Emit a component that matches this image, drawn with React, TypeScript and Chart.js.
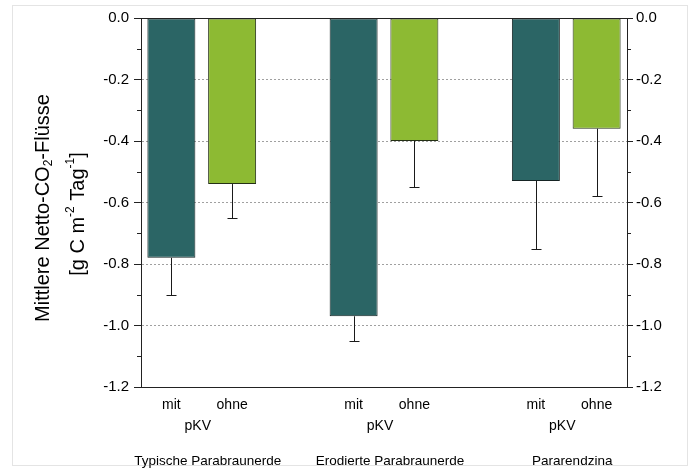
import React, { useEffect, useRef } from 'react';
import { Chart, registerables } from 'chart.js';

Chart.register(...registerables);

// ---- data ----
const slotLabels = ['mit', 'ohne', '', 'mit', 'ohne', '', 'mit', 'ohne'];
const groupLabels = ['Typische Parabraunerde', 'Erodierte Parabraunerde', 'Pararendzina'];
const pairLabel = 'pKV';
const mitValues = [-0.78, -0.97, -0.53];
const ohneValues = [-0.54, -0.40, -0.36];
const mitErrors = [0.12, 0.08, 0.22];
const ohneErrors = [0.11, 0.15, 0.22];
const yTickLabels = ['0.0', '-0.2', '-0.4', '-0.6', '-0.8', '-1.0', '-1.2'];
const yMinorTicks = [-0.1, -0.3, -0.5, -0.7, -0.9, -1.1];
const titleLine1 = [
  { t: 'Mittlere Netto-CO', k: 'n' },
  { t: '2', k: 'sub' },
  { t: '-Flüsse', k: 'n' },
];
const titleLine2 = [
  { t: '[g C m', k: 'n' },
  { t: '-2', k: 'sup' },
  { t: ' Tag', k: 'n' },
  { t: '-1', k: 'sup' },
  { t: ']', k: 'n' },
];

const FONT = "'Liberation Sans', Arial, Helvetica, sans-serif";
const TEAL = '#2b6565';
const GREEN = '#8dba33';

function toSlots(values: number[], offset: number): (number | null)[] {
  const out: (number | null)[] = slotLabels.map(() => null);
  values.forEach((v, g) => {
    out[g * 3 + offset] = v;
  });
  return out;
}

const mitData = toSlots(mitValues, 0);
const ohneData = toSlots(ohneValues, 1);
const mitErrSlots = toSlots(mitErrors, 0);
const ohneErrSlots = toSlots(ohneErrors, 1);

function drawRich(ctx: CanvasRenderingContext2D, segs: { t: string; k: string }[], size: number) {
  const small = Math.round(size * 0.62);
  const widths = segs.map((s) => {
    ctx.font = `${s.k === 'n' ? size : small}px ${FONT}`;
    return ctx.measureText(s.t).width;
  });
  const total = widths.reduce((a, b) => a + b, 0);
  let x = -total / 2;
  segs.forEach((s, i) => {
    ctx.font = `${s.k === 'n' ? size : small}px ${FONT}`;
    let dy = 0;
    if (s.k === 'sub') dy = size * 0.3;
    if (s.k === 'sup') dy = -size * 0.38;
    ctx.fillText(s.t, x, dy);
    x += widths[i];
  });
}

const customPlugin = {
  id: 'custom',
  beforeDraw(chart: any) {
    const ctx = chart.ctx as CanvasRenderingContext2D;
    ctx.save();
    ctx.fillStyle = '#ffffff';
    ctx.fillRect(0, 0, chart.width, chart.height);
    ctx.strokeStyle = '#e4e4e4';
    ctx.lineWidth = 1;
    ctx.strokeRect(12.5, 5.5, 675, 460);
    ctx.restore();
  },
  afterDatasetsDraw(chart: any) {
    const ctx = chart.ctx as CanvasRenderingContext2D;
    const y = chart.scales.y;
    const errSets = [mitErrSlots, ohneErrSlots];
    ctx.save();
    ctx.strokeStyle = '#1a1a1a';
    ctx.lineWidth = 1;
    chart.data.datasets.forEach((ds: any, i: number) => {
      const meta = chart.getDatasetMeta(i);
      meta.data.forEach((bar: any, j: number) => {
        const v = ds.data[j];
        const e = errSets[i][j];
        if (v == null || e == null) return;
        const x = Math.round(bar.x) + 0.5;
        const y0 = y.getPixelForValue(v);
        const y1 = Math.round(y.getPixelForValue(v - e)) + 0.5;
        ctx.beginPath();
        ctx.moveTo(x, y0);
        ctx.lineTo(x, y1);
        ctx.moveTo(x - 5, y1);
        ctx.lineTo(x + 5, y1);
        ctx.stroke();
      });
    });
    ctx.restore();
  },
  afterDraw(chart: any) {
    const ctx = chart.ctx as CanvasRenderingContext2D;
    const { left, right, top } = chart.chartArea;
    const xs = chart.scales.x;
    const y = chart.scales.y;
    ctx.save();
    // top frame line (zero line)
    ctx.strokeStyle = '#222';
    ctx.lineWidth = 1;
    ctx.beginPath();
    ctx.moveTo(left, Math.round(top) + 0.5);
    ctx.lineTo(right, Math.round(top) + 0.5);
    ctx.stroke();
    // minor ticks
    ctx.beginPath();
    yMinorTicks.forEach((v) => {
      const py = Math.round(y.getPixelForValue(v)) + 0.5;
      ctx.moveTo(left - 4, py);
      ctx.lineTo(left, py);
      ctx.moveTo(right, py);
      ctx.lineTo(right + 4, py);
    });
    ctx.stroke();
    // pair and group labels
    ctx.fillStyle = '#000';
    ctx.textAlign = 'center';
    ctx.textBaseline = 'middle';
    groupLabels.forEach((g, i) => {
      const xm = (xs.getPixelForValue(i * 3) + xs.getPixelForValue(i * 3 + 1)) / 2;
      ctx.font = `14px ${FONT}`;
      ctx.fillText(pairLabel, xm - 4, 426);
      ctx.font = `13.5px ${FONT}`;
      ctx.fillText(g, xm + 6, 461);
    });
    // y axis title
    ctx.fillStyle = '#000';
    ctx.textAlign = 'left';
    ctx.textBaseline = 'middle';
    ctx.save();
    ctx.translate(43, 208);
    ctx.rotate(-Math.PI / 2);
    drawRich(ctx, titleLine1, 20);
    ctx.restore();
    ctx.save();
    ctx.translate(78, 214);
    ctx.rotate(-Math.PI / 2);
    drawRich(ctx, titleLine2, 20);
    ctx.restore();
    ctx.restore();
  },
};

function yTickCallback(value: any) {
  const idx = Math.round(-Number(value) * 5);
  return yTickLabels[idx] ?? '';
}

export default function App() {
  const ref = useRef<HTMLCanvasElement | null>(null);
  useEffect(() => {
    if (!ref.current) return;
    const tickFont = { family: FONT, size: 15 };
    const chart = new Chart(ref.current, {
      type: 'bar',
      data: {
        labels: slotLabels,
        datasets: [
          {
            label: 'mit',
            data: mitData as any,
            backgroundColor: TEAL,
            borderColor: '#162424',
            borderWidth: 1,
            borderSkipped: false,
            grouped: false,
            barPercentage: 0.79,
            categoryPercentage: 1,
          } as any,
          {
            label: 'ohne',
            data: ohneData as any,
            backgroundColor: GREEN,
            borderColor: '#243015',
            borderWidth: 1,
            borderSkipped: false,
            grouped: false,
            barPercentage: 0.79,
            categoryPercentage: 1,
          } as any,
        ],
      },
      options: {
        responsive: false,
        animation: false,
        devicePixelRatio: 1,
        layout: { padding: { top: 18, left: 0, right: 0, bottom: 0 } },
        plugins: {
          legend: { display: false },
          tooltip: { enabled: false },
          title: { display: false },
        },
        scales: {
          x: {
            position: 'bottom',
            grid: { display: false, drawTicks: false },
            border: { display: true, color: '#222', width: 1 },
            ticks: {
              color: '#000',
              font: { family: FONT, size: 14 },
              padding: 10,
              autoSkip: false,
              maxRotation: 0,
            },
            afterFit: (s: any) => {
              s.height = 83;
            },
          },
          y: {
            position: 'left',
            min: -1.2,
            max: 0,
            ticks: {
              stepSize: 0.2,
              callback: yTickCallback,
              color: '#000',
              font: tickFont,
              padding: 5,
            },
            grid: {
              color: (c: any) => {
                const v = c.tick ? c.tick.value : 0;
                if (Math.abs(v) < 1e-6 || v < -1.19) return 'rgba(0,0,0,0)';
                return '#a0a0a0';
              },
              tickColor: '#222',
              tickLength: 7,
              lineWidth: 1,
            },
            border: { display: true, color: '#222', width: 1, dash: [2, 2] },
            afterFit: (s: any) => {
              s.width = 141;
            },
          },
          y2: {
            position: 'right',
            min: -1.2,
            max: 0,
            ticks: {
              stepSize: 0.2,
              callback: yTickCallback,
              color: '#000',
              font: tickFont,
              padding: 3,
            },
            grid: { drawOnChartArea: false, tickColor: '#222', tickLength: 6 },
            border: { display: true, color: '#222', width: 1 },
            afterFit: (s: any) => {
              s.width = 64;
            },
          },
        },
      } as any,
      plugins: [customPlugin],
    });
    return () => chart.destroy();
  }, []);

  return (
    <div style={{ position: 'absolute', left: 0, top: 0, width: 691, height: 470, background: '#fff' }}>
      <canvas ref={ref} width={691} height={470} style={{ display: 'block' }} />
    </div>
  );
}
